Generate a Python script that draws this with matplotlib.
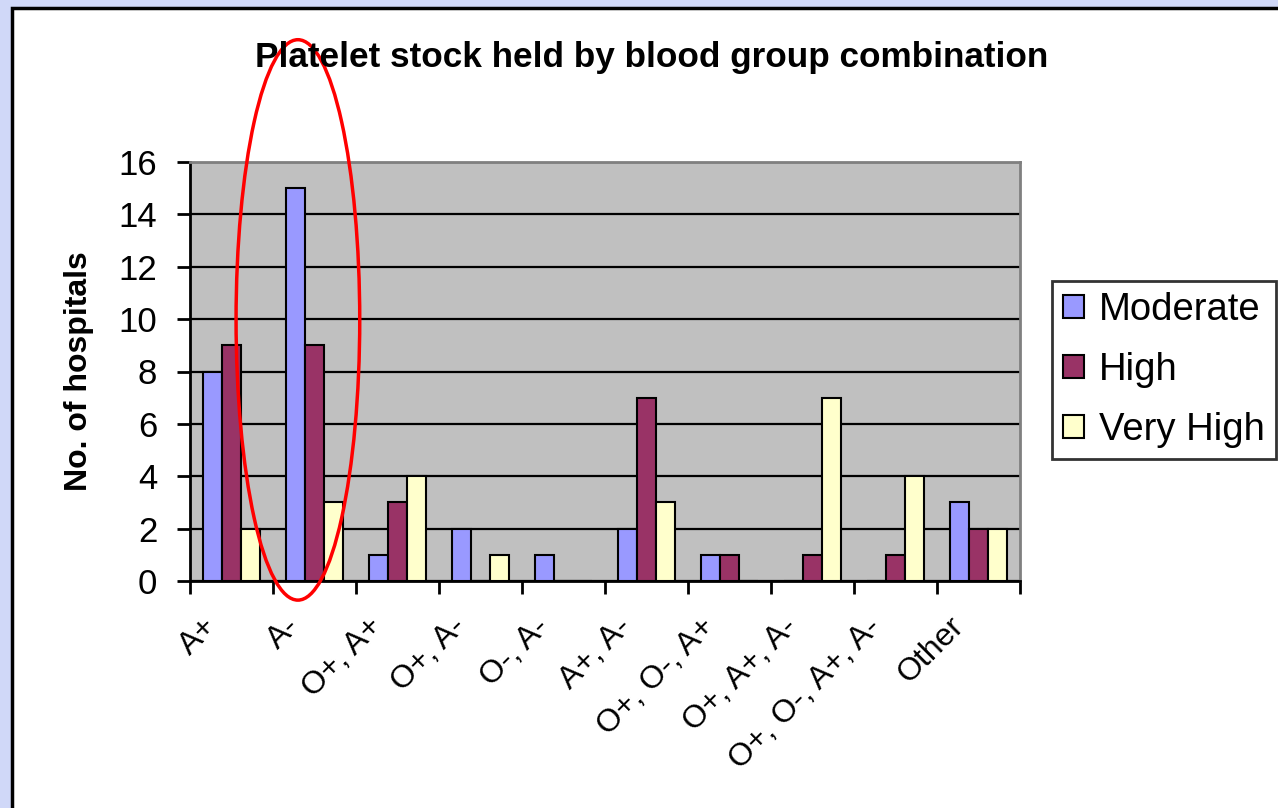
import numpy as np
import matplotlib
matplotlib.use('Agg')
import matplotlib.pyplot as plt
import matplotlib.transforms as mtransforms
from matplotlib.patches import Rectangle, Ellipse

# DATA ##############################################
groups = ['A+', 'A-', 'O+, A+', 'O+, A-', 'O-, A-', 'A+, A-',
          'O+, O-, A+', 'O+, A+, A-', 'O+, O-, A+, A-', 'Other']
moderate = [8, 15, 1, 2, 1, 2, 1, 0, 0, 3]
high = [9, 9, 3, 0, 0, 7, 1, 1, 1, 2]
very_high = [2, 3, 4, 1, 0, 3, 0, 7, 4, 2]
series_names = ['Moderate', 'High', 'Very High']
yticks = [0, 2, 4, 6, 8, 10, 12, 14, 16]

colors = ['#9999ff', '#993366', '#ffffcc']

plt.rcParams['font.family'] = ['Liberation Sans', 'DejaVu Sans']

# FIGURE ############################################
fig = plt.figure(figsize=(12.78, 8.08), dpi=100)
fig.patch.set_facecolor('#d0d8f8')

# white panel with black border
panel = Rectangle((12 / 1278, -0.05), 1.1, 1 - 8 / 808 + 0.05, transform=fig.transFigure,
                  facecolor='white', edgecolor='black', linewidth=2.5, zorder=-5)
fig.patches.append(panel)

ax = fig.add_axes([190 / 1278, 1 - 581 / 808, 830 / 1278, 419 / 808])
ax.set_facecolor('#c0c0c0')

x = np.arange(len(groups))
w = 0.225
for i, (vals, name) in enumerate(zip([moderate, high, very_high], series_names)):
    ax.bar(x + (i - 1) * w, vals, width=w, color=colors[i], edgecolor='black',
           linewidth=1.5, label=name, zorder=3)

ax.set_xlim(-0.5, len(groups) - 0.5)
ax.set_ylim(0, 16)
ax.set_yticks(yticks)
ax.set_yticklabels([str(v) for v in yticks], fontsize=25)
ax.yaxis.grid(True, color='black', linewidth=1.6, zorder=1)
ax.set_axisbelow(True)

# category boundaries as major ticks, labels at centres
ax.set_xticks(np.arange(-0.5, len(groups)))
ax.set_xticklabels([])
ax.set_xticks(x, minor=True)
ax.set_xticklabels(groups, minor=True, rotation=45, ha='right', va='top',
                   rotation_mode='anchor', fontsize=23)
ax.tick_params(axis='x', which='minor', length=0, pad=22)
ax.tick_params(axis='x', which='major', length=9, width=2, direction='out')
ax.tick_params(axis='y', length=9.5, width=2, direction='out', pad=14)

# labels sit a little left of the category centre
offset = mtransforms.ScaledTranslation(-30 / 100, 0, fig.dpi_scale_trans)
for lab in ax.get_xticklabels(minor=True):
    lab.set_transform(lab.get_transform() + offset)

for s in ['left', 'bottom']:
    ax.spines[s].set_linewidth(2)
    ax.spines[s].set_color('black')
for s in ['top', 'right']:
    ax.spines[s].set_linewidth(2)
    ax.spines[s].set_color('#808080')

ax.set_ylabel('No. of hospitals', fontsize=23, fontweight='bold')
ax.yaxis.set_label_coords(-0.116, 0.5)

fig.text(652 / 1278, 1 - 57 / 808, 'Platelet stock held by blood group combination',
         ha='center', va='center', fontsize=25.3, fontweight='bold')

leg = ax.legend(loc='upper left', bbox_to_anchor=(1052 / 1278, 1 - 281 / 808),
                bbox_transform=fig.transFigure, fontsize=27.5, frameon=True,
                fancybox=False, edgecolor='black', handlelength=0.55, handleheight=0.55,
                handletextpad=0.38, labelspacing=0.62, borderpad=0.3, borderaxespad=0)
leg.get_frame().set_linewidth(2)

# red ellipse around the A- group
ell = Ellipse((0.8, 9.97), 1.49, 21.4, facecolor='none', edgecolor='red',
              linewidth=2.5, clip_on=False, zorder=5)
ax.add_patch(ell)

fig.savefig('out.png', dpi=100, facecolor=fig.get_facecolor())
